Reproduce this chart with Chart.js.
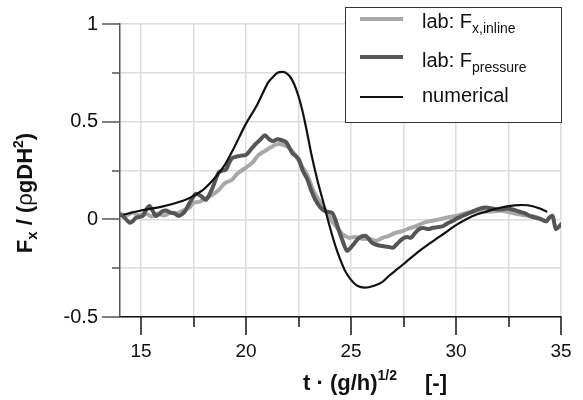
<!DOCTYPE html>
<html>
<head>
<meta charset="utf-8">
<script src="https://cdn.jsdelivr.net/npm/chart.js@4.4.0/dist/chart.umd.min.js"></script>
<style>
  html, body { margin: 0; padding: 0; background: #fff; }
  canvas { display: block; }
</style>
</head>
<body>
<canvas id="forceChart" width="583" height="400"></canvas>
<script>
// x values = t*(g/h)^1/2, y values = Fx/(rho g D H^2)

// numerical
const numX = [14.2, 15.0, 16.0, 17.0, 17.5, 18.0, 18.5, 19.0, 19.4, 20.0, 20.5, 21.05, 21.3, 21.5, 21.75, 21.9, 22.1, 22.3, 22.5, 22.7, 22.9, 23.1, 23.4, 23.65, 23.97, 24.3, 24.7, 25.0, 25.3, 25.65, 26.1, 26.5, 26.8, 27.2, 27.6, 28.1, 28.6, 29.2, 29.6, 30.0, 30.4, 30.8, 31.3, 31.75, 32.2, 32.5, 33.0, 33.4, 33.7, 34.0, 34.3];
const numY = [0.025, 0.045, 0.065, 0.095, 0.12, 0.155, 0.21, 0.28, 0.36, 0.49, 0.58, 0.70, 0.73, 0.75, 0.755, 0.75, 0.73, 0.69, 0.63, 0.55, 0.45, 0.34, 0.20, 0.10, -0.03, -0.15, -0.26, -0.31, -0.34, -0.35, -0.34, -0.32, -0.29, -0.255, -0.22, -0.175, -0.135, -0.09, -0.06, -0.03, -0.005, 0.017, 0.035, 0.05, 0.062, 0.068, 0.073, 0.072, 0.066, 0.055, 0.04];

// lab: Fx,inline
const inlineX = [14.0, 14.3, 14.6, 14.9, 15.2, 15.5, 15.8, 16.1, 16.4, 16.7, 17.0, 17.3, 17.5, 17.8, 18.1, 18.4, 18.7, 19.0, 19.3, 19.6, 20.0, 20.3, 20.6, 20.9, 21.2, 21.5, 21.8, 22.0, 22.2, 22.4, 22.7, 22.9, 23.2, 23.4, 23.65, 23.9, 24.1, 24.4, 24.6, 24.9, 25.2, 25.55, 25.9, 26.2, 26.5, 26.8, 27.1, 27.45, 27.8, 28.1, 28.4, 28.7, 29.0, 29.2, 29.6, 30.0, 30.4, 30.8, 31.2, 31.75, 32.1, 32.5, 33.0, 33.3, 33.65, 34.0, 34.3];
const inlineY = [0.03, 0.02, 0.035, 0.02, 0.03, 0.015, 0.03, 0.02, 0.035, 0.03, 0.045, 0.06, 0.085, 0.09, 0.11, 0.125, 0.15, 0.185, 0.2, 0.235, 0.265, 0.29, 0.33, 0.35, 0.37, 0.385, 0.38, 0.37, 0.35, 0.32, 0.265, 0.23, 0.15, 0.11, 0.07, 0.03, -0.01, -0.05, -0.077, -0.094, -0.09, -0.1, -0.1, -0.11, -0.095, -0.085, -0.07, -0.06, -0.045, -0.035, -0.02, -0.01, -0.005, 0.0, 0.01, 0.017, 0.03, 0.04, 0.04, 0.04, 0.045, 0.037, 0.026, 0.02, 0.017, 0.005, -0.01];

// lab: Fpressure
const pressX = [14.0, 14.2, 14.45, 14.6, 14.76, 15.08, 15.25, 15.4, 15.55, 15.7, 15.85, 16.0, 16.2, 16.4, 16.6, 16.8, 17.0, 17.1, 17.35, 17.6, 17.85, 18.1, 18.4, 18.7, 18.9, 19.05, 19.2, 19.36, 19.7, 20.0, 20.25, 20.5, 20.7, 20.9, 21.1, 21.27, 21.5, 21.7, 21.9, 22.05, 22.2, 22.5, 22.7, 22.9, 23.1, 23.3, 23.55, 23.8, 24.1, 24.25, 24.4, 24.6, 24.8, 24.95, 25.1, 25.4, 25.7, 26.0, 26.2, 26.5, 26.75, 27.0, 27.2, 27.45, 27.65, 27.86, 28.05, 28.25, 28.45, 28.7, 28.9, 29.15, 29.4, 29.6, 29.84, 30.05, 30.3, 30.7, 31.0, 31.4, 31.75, 32.1, 32.4, 32.7, 33.0, 33.3, 33.55, 33.8, 34.05, 34.3, 34.45, 34.6, 34.68, 34.76, 34.88, 35.0];
const pressY = [0.026, 0.01, -0.017, -0.01, 0.008, 0.017, 0.05, 0.068, 0.045, 0.017, 0.025, 0.04, 0.045, 0.034, 0.03, 0.017, 0.03, 0.042, 0.09, 0.13, 0.12, 0.10, 0.16, 0.24, 0.25, 0.255, 0.29, 0.315, 0.325, 0.33, 0.36, 0.39, 0.41, 0.43, 0.41, 0.40, 0.41, 0.405, 0.396, 0.37, 0.34, 0.31, 0.25, 0.21, 0.15, 0.10, 0.06, 0.04, 0.034, 0.0, -0.05, -0.11, -0.16, -0.15, -0.13, -0.094, -0.085, -0.12, -0.13, -0.137, -0.14, -0.145, -0.125, -0.10, -0.09, -0.094, -0.07, -0.05, -0.045, -0.05, -0.043, -0.04, -0.034, -0.02, -0.008, 0.005, 0.017, 0.035, 0.05, 0.06, 0.055, 0.05, 0.055, 0.05, 0.04, 0.03, 0.015, 0.008, 0.0, -0.01, 0.01, 0.017, -0.02, -0.05, -0.04, -0.026];

// tick positions
const xTickVals = [15, 17.5, 20, 22.5, 25, 27.5, 30, 32.5, 35];
const yTickVals = [-0.5, -0.25, 0, 0.25, 0.5, 0.75, 1];

const FONT = "'Liberation Sans', Arial, Helvetica, sans-serif";

function toPoints(xs, ys) {
	return xs.map((x, i) => ({ x: x, y: ys[i] }));
}

// draw a run of text pieces (for sub/superscripts), returns end x
function drawParts(ctx, x, y, parts) {
	parts.forEach(p => {
		ctx.font = (p.bold ? 'bold ' : '') + p.size + 'px ' + FONT;
		ctx.fillText(p.t, x, y + (p.dy || 0));
		x += ctx.measureText(p.t).width;
	});
	return x;
}

function partsWidth(ctx, parts) {
	let w = 0;
	parts.forEach(p => {
		ctx.font = (p.bold ? 'bold ' : '') + p.size + 'px ' + FONT;
		w += ctx.measureText(p.t).width;
	});
	return w;
}

const extras = {
	id: 'extras',
	afterDraw(chart) {
		const ctx = chart.ctx;
		const xs = chart.scales.x;
		const ys = chart.scales.y;
		ctx.save();

		// tick marks, long on labelled ticks and short between
		ctx.lineWidth = 1.5;
		ctx.strokeStyle = '#111';
		xs.ticks.forEach(t => {
			const px = Math.round(xs.getPixelForValue(t.value));
			const len = t.value % 5 === 0 ? 18 : 10;
			ctx.beginPath();
			ctx.moveTo(px, ys.bottom);
			ctx.lineTo(px, ys.bottom + len);
			ctx.stroke();
		});
		ctx.strokeStyle = '#555';
		ys.ticks.forEach(t => {
			const py = Math.round(ys.getPixelForValue(t.value));
			const major = Math.abs(t.value * 2 - Math.round(t.value * 2)) < 1e-6;
			const len = major ? 18 : 8;
			ctx.beginPath();
			ctx.moveTo(xs.left - len, py);
			ctx.lineTo(xs.left, py);
			ctx.stroke();
		});

		// legend
		ctx.fillStyle = '#fff';
		ctx.fillRect(345, 7, 216, 115);
		ctx.strokeStyle = '#333';
		ctx.lineWidth = 1;
		ctx.strokeRect(345.5, 7.5, 216, 115);
		const rows = [
			{ color: '#a8a8a8', width: 4, y: 19, base: 28, parts: [{ t: 'lab: F', size: 20 }, { t: 'x,inline', size: 14, dy: 5 }] },
			{ color: '#555555', width: 4, y: 57, base: 67, parts: [{ t: 'lab: F', size: 20 }, { t: 'pressure', size: 14, dy: 5 }] },
			{ color: '#111111', width: 2.2, y: 97, base: 102, parts: [{ t: 'numerical', size: 20 }] }
		];
		rows.forEach(r => {
			ctx.strokeStyle = r.color;
			ctx.lineWidth = r.width;
			ctx.beginPath();
			ctx.moveTo(360, r.y);
			ctx.lineTo(403, r.y);
			ctx.stroke();
			ctx.fillStyle = '#111';
			ctx.textAlign = 'left';
			ctx.textBaseline = 'alphabetic';
			drawParts(ctx, 422, r.base, r.parts);
		});

		// x axis title
		ctx.fillStyle = '#111';
		ctx.textAlign = 'left';
		ctx.textBaseline = 'alphabetic';
		drawParts(ctx, 303, 390, [
			{ t: 't \u00b7 (g/h)', size: 22, bold: true },
			{ t: '1/2', size: 14, bold: true, dy: -10 }
		]);
		drawParts(ctx, 425, 390, [{ t: '[-]', size: 22, bold: true }]);

		// y axis title
		const yParts = [
			{ t: 'F', size: 22, bold: true },
			{ t: 'x', size: 15, bold: true, dy: 5 },
			{ t: ' / (', size: 22, bold: true },
			{ t: '\u03c1', size: 22 },
			{ t: 'gDH', size: 22, bold: true },
			{ t: '2', size: 14, bold: true, dy: -9 },
			{ t: ')', size: 22, bold: true }
		];
		ctx.translate(32, 193);
		ctx.rotate(-Math.PI / 2);
		drawParts(ctx, -partsWidth(ctx, yParts) / 2, 0, yParts);
		ctx.restore();
	}
};

const data = {
	datasets: [{
		label: 'numerical',
		data: toPoints(numX, numY),
		borderColor: '#111111',
		borderWidth: 2.2,
		order: 0
	}, {
		label: 'lab: Fpressure',
		data: toPoints(pressX, pressY),
		borderColor: '#555555',
		borderWidth: 4,
		order: 1
	}, {
		label: 'lab: Fx,inline',
		data: toPoints(inlineX, inlineY),
		borderColor: '#a8a8a8',
		borderWidth: 4,
		order: 2
	}]
};

const config = {
	type: 'line',
	data: data,
	options: {
		responsive: false,
		animation: false,
		devicePixelRatio: 1,
		layout: {
			padding: { left: 0, top: 24, right: 22, bottom: 0 }
		},
		elements: {
			line: { tension: 0.3, borderJoinStyle: 'round', borderCapStyle: 'round', fill: false },
			point: { radius: 0 }
		},
		scales: {
			x: {
				type: 'linear',
				min: 14,
				max: 35,
				afterBuildTicks: scale => { scale.ticks = xTickVals.map(v => ({ value: v })); },
				afterFit: scale => {
					scale.height = 83;
					scale.paddingLeft = 0;
					scale.paddingRight = 0;
				},
				ticks: {
					autoSkip: false,
					maxRotation: 0,
					padding: 23,
					color: '#111',
					font: { family: FONT, size: 19 },
					callback: v => (v % 5 === 0 ? String(v) : '')
				},
				grid: { color: '#dcdcdc', lineWidth: 1.5, drawTicks: false },
				border: { color: '#111', width: 1.5 }
			},
			y: {
				min: -0.5,
				max: 1,
				afterBuildTicks: scale => { scale.ticks = yTickVals.map(v => ({ value: v })); },
				afterFit: scale => {
					scale.width = 120;
					scale.paddingTop = 0;
					scale.paddingBottom = 0;
				},
				ticks: {
					autoSkip: false,
					padding: 22,
					color: '#111',
					font: { family: FONT, size: 20 },
					callback: v => (Math.abs(v * 2 - Math.round(v * 2)) < 1e-6 ? String(v) : '')
				},
				grid: { color: '#dcdcdc', lineWidth: 1.5, drawTicks: false },
				border: { color: '#555', width: 1.5 }
			}
		},
		plugins: {
			legend: { display: false },
			tooltip: { enabled: false }
		}
	},
	plugins: [extras]
};

document.addEventListener('DOMContentLoaded', () => {
	const ctx = document.getElementById('forceChart').getContext('2d');
	new Chart(ctx, config);
});
</script>
</body>
</html>
